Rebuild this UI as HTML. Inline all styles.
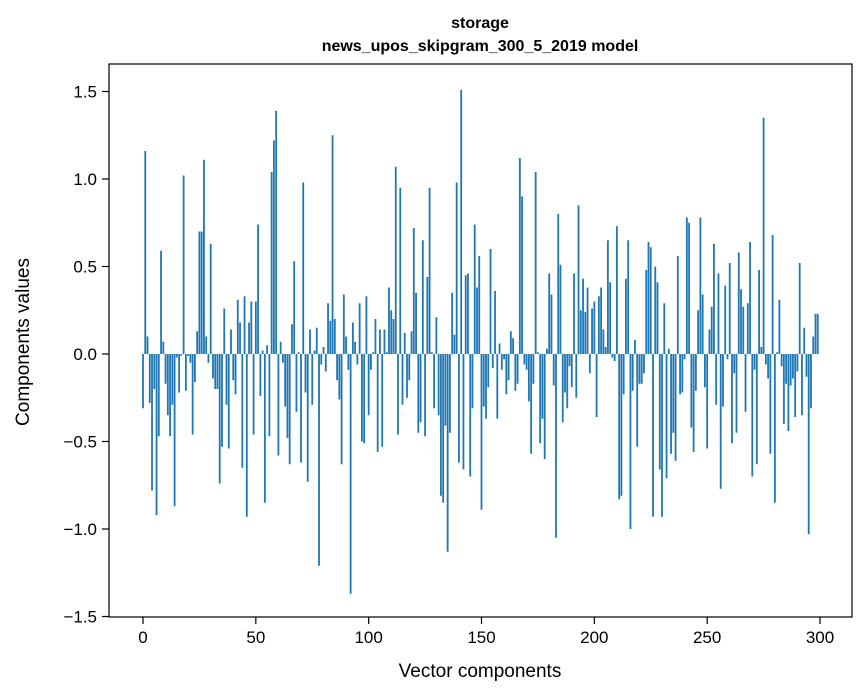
<!DOCTYPE html>
<html><head><meta charset="utf-8">
<style>
html,body{margin:0;padding:0;background:#fff;}
svg{display:block;font-family:"Liberation Sans","DejaVu Sans",sans-serif;}
</style></head>
<body>
<svg id="chart" width="867" height="696" viewBox="0 0 867 696" xmlns="http://www.w3.org/2000/svg">
<rect width="867" height="696" fill="#fff"/>
<text x="480" y="28" text-anchor="middle" font-size="16" font-weight="bold">storage</text>
<text x="480" y="51" text-anchor="middle" font-size="16" font-weight="bold">news_upos_skipgram_300_5_2019 model</text>
<g id="bars"></g>
<rect x="109" y="64" width="743" height="553" fill="none" stroke="#000" stroke-width="1.2"/>
<g id="xticks"></g>
<g id="yticks"></g>
<text x="480" y="677" text-anchor="middle" font-size="19">Vector components</text>
<text transform="translate(29,342) rotate(-90)" text-anchor="middle" font-size="19">Components values</text>
</svg>
<script>
const values = [
-0.31,1.16,0.10,-0.28,-0.78,-0.20,-0.92,-0.47,0.59,0.07,
-0.17,-0.35,-0.47,-0.29,-0.87,-0.02,-0.22,-0.01,1.02,-0.21,
-0.01,-0.05,-0.46,-0.16,0.13,0.70,0.70,1.11,0.10,-0.05,
0.63,-0.14,-0.20,-0.20,-0.74,-0.53,0.26,-0.29,-0.54,0.14,
-0.15,-0.23,0.31,0.18,-0.65,0.33,-0.93,0.18,0.30,-0.46,
0.30,0.74,-0.24,0.02,-0.85,0.05,-0.47,1.04,1.22,1.39,
-0.58,0.07,-0.05,-0.30,-0.48,-0.63,0.17,0.53,-0.33,0.01,
-0.62,0.98,-0.22,-0.73,0.14,-0.29,0.02,0.15,-1.21,-0.06,
0.04,-0.10,0.29,0.19,1.25,0.20,-0.15,-0.26,-0.63,0.34,
0.10,-0.09,-1.37,0.18,0.07,-0.06,0.29,-0.50,-0.51,0.33,
-0.35,-0.09,0.01,0.20,-0.56,0.14,-0.53,0.14,0.01,0.38,
0.25,0.20,1.07,-0.46,0.95,-0.29,0.12,-0.25,-0.15,0.13,
0.72,0.35,-0.45,-0.39,0.65,-0.47,0.44,0.95,0.01,-0.31,
0.21,-0.35,-0.81,-0.85,-0.41,-1.13,-0.45,0.35,0.11,0.98,
-0.62,1.51,-0.66,0.45,0.46,-0.70,-0.31,0.74,0.38,0.56,
-0.89,-0.30,-0.37,-0.19,0.60,-0.08,0.36,-0.37,0.06,-0.09,
-0.03,-0.23,-0.15,0.13,0.09,-0.21,-0.17,1.12,0.90,-0.06,
-0.09,-0.27,-0.57,-0.17,1.04,0.01,-0.51,-0.37,-0.60,0.03,
0.46,0.34,-0.18,-1.05,0.80,0.51,-0.39,-0.22,-0.31,-0.07,
-0.19,0.46,-0.25,0.85,0.25,0.43,0.24,0.38,-0.11,0.26,
0.30,-0.36,0.33,0.38,0.14,0.04,0.65,0.41,-0.02,-0.04,
0.73,-0.83,-0.81,-0.23,0.43,0.65,-1.00,-0.21,0.08,-0.53,
-0.17,-0.17,-0.11,0.48,0.64,0.61,-0.93,0.50,0.41,-0.66,
-0.93,0.29,-0.71,0.03,-0.57,-0.45,-0.61,0.56,-0.23,-0.22,
-0.03,0.78,0.75,-0.42,-0.56,-0.21,0.25,0.78,0.34,-0.19,
-0.54,0.14,0.27,0.63,-0.29,0.46,-0.77,-0.30,0.39,-0.03,
0.52,-0.51,-0.11,-0.45,0.58,0.37,0.27,-0.33,0.29,0.64,
-0.70,-0.09,-0.63,0.48,0.04,1.35,-0.06,-0.14,-0.57,0.68,
-0.85,0.01,0.31,-0.07,-0.40,-0.17,-0.44,-0.18,-0.14,-0.36,
-0.10,0.52,-0.35,0.15,-0.13,-1.03,-0.31,0.10,0.23,0.23
];
const xTickLabels = [0,50,100,150,200,250,300];
const yTickLabels = [-1.5,-1.0,-0.5,0.0,0.5,1.0,1.5];

const NS = "http://www.w3.org/2000/svg";
function xScale(v){ return 143 + v * (677/300); }
function yScale(v){ return 354 - v * 175; }

const barsG = document.getElementById('bars');
const bw = 0.8 * (677/300);
values.forEach(function(v, i){
  const r = document.createElementNS(NS, 'rect');
  
  
  const y0 = yScale(0), y1 = yScale(v);
  r.setAttribute('x', xScale(i) - bw/2);
  r.setAttribute('y', Math.min(y0, y1));
  r.setAttribute('width', bw);
  r.setAttribute('height', Math.max(Math.abs(y1 - y0), 0.3));
  r.setAttribute('fill', '#1f77b4');
  barsG.appendChild(r);
});

const xg = document.getElementById('xticks');
xTickLabels.forEach(function(t){
  const x = xScale(t);
  const l = document.createElementNS(NS, 'line');
  
  
  l.setAttribute('x1', x); l.setAttribute('x2', x);
  l.setAttribute('y1', 617); l.setAttribute('y2', 624);
  l.setAttribute('stroke', '#000'); l.setAttribute('stroke-width', '1.2');
  xg.appendChild(l);
  const tx = document.createElementNS(NS, 'text');
  
  
  tx.setAttribute('x', x); tx.setAttribute('y', 643);
  tx.setAttribute('text-anchor', 'middle'); tx.setAttribute('font-size', '17');
  tx.textContent = String(t);
  xg.appendChild(tx);
});

const yg = document.getElementById('yticks');
yTickLabels.forEach(function(t){
  const y = yScale(t);
  const l = document.createElementNS(NS, 'line');
  
  
  l.setAttribute('x1', 102); l.setAttribute('x2', 109);
  l.setAttribute('y1', y); l.setAttribute('y2', y);
  l.setAttribute('stroke', '#000'); l.setAttribute('stroke-width', '1.2');
  yg.appendChild(l);
  const tx = document.createElementNS(NS, 'text');
  
  
  tx.setAttribute('x', 97); tx.setAttribute('y', y + 6);
  tx.setAttribute('text-anchor', 'end'); tx.setAttribute('font-size', '17');
  tx.textContent = (t < 0 ? '\u2212' : '') + Math.abs(t).toFixed(1);
  yg.appendChild(tx);
});
</script>
</body></html>
